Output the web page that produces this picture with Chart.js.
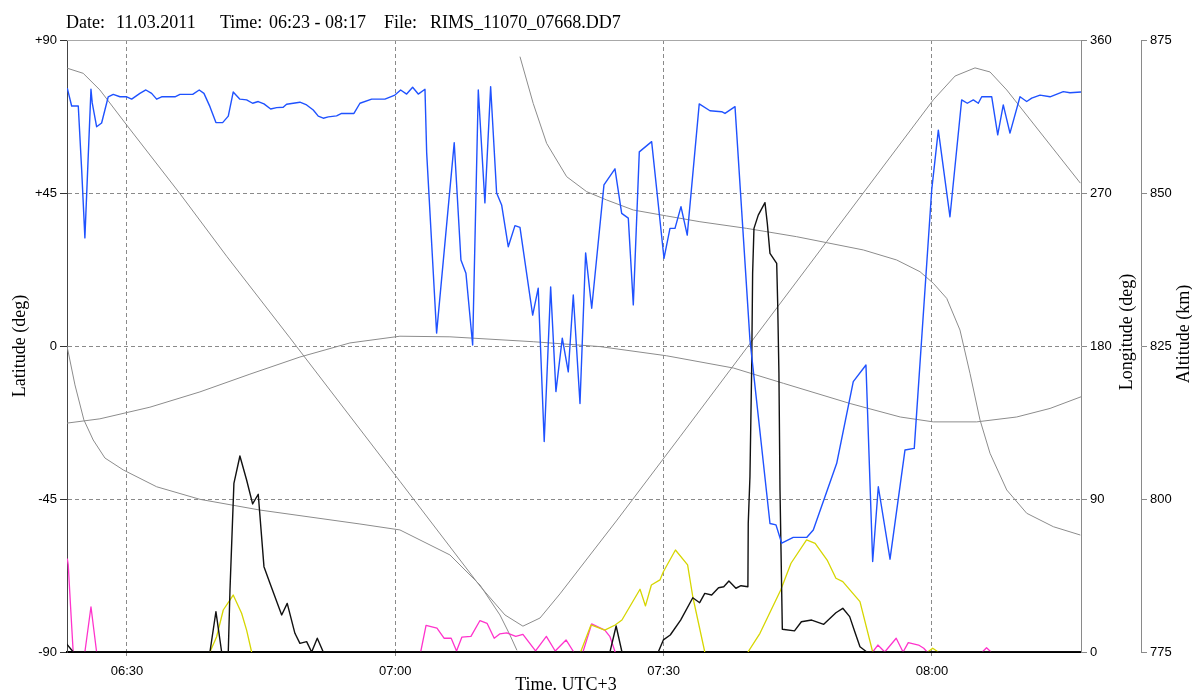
<!DOCTYPE html>
<html><head><meta charset="utf-8">
<script src="https://cdn.jsdelivr.net/npm/chart.js@4.4.1/dist/chart.umd.min.js"></script>
<style>html,body{margin:0;padding:0;background:#fff;} canvas{display:block;}</style>
</head><body>
<canvas id="c" width="1192" height="694" style="width:1192px;height:694px"></canvas>
<script>
// ---- axis ranges and ticks (time in minutes after midnight, UTC+3) ----
const xMin = 383.3, xMax = 496.66;
const xTickValues = [390, 420, 450, 480];
const xTickLabels = ['06:30', '07:00', '07:30', '08:00'];
const latTickValues = [-90, -45, 0, 45, 90];
const latTickLabels = ['-90', '-45', '0', '+45', '+90'];
const lonTickValues = [0, 90, 180, 270, 360];
const altTickValues = [775, 800, 825, 850, 875];

// ---- header / axis title texts ----
const titleTexts = ['Date:', '11.03.2011', 'Time:', '06:23 - 08:17', 'File:', 'RIMS_11070_07668.DD7'];
const xTitle = 'Time. UTC+3';
const latTitle = 'Latitude (deg)';
const lonTitle = 'Longitude (deg)';
const altTitle = 'Altitude (km)';

// ---- blue series (left axis, deg) ----
const blueTime = [383.33,383.82,384.56,384.94,385.30,385.98,386.12,386.61,387.17,387.91,388.47,389.22,389.97,390.53,391.45,392.12,392.76,393.32,393.88,395.37,395.93,397.35,398.08,398.61,399.28,399.95,400.70,401.33,401.88,402.63,403.38,404.05,404.68,405.32,406.07,406.74,407.47,407.85,409.34,410.09,410.83,411.39,411.95,412.51,413.44,414.00,415.38,416.05,417.36,418.84,419.96,420.60,421.27,421.94,422.57,423.32,423.51,424.62,426.59,427.34,427.90,428.65,429.28,430.02,430.66,431.33,431.89,432.63,433.38,433.94,435.36,435.98,436.65,437.37,437.96,438.67,439.34,439.90,440.65,441.28,441.96,443.33,444.56,445.31,446.05,446.61,447.28,448.66,450.04,450.71,451.27,451.94,452.64,453.98,455.18,456.49,456.86,457.98,459.65,461.89,462.56,463.20,464.49,465.99,466.73,469.35,471.20,472.62,473.37,474.00,475.31,476.98,478.02,479.97,480.71,482.01,483.32,483.95,484.62,485.18,485.56,486.68,487.35,487.97,488.72,489.84,490.59,491.15,492.08,493.20,494.68,495.43,496.66];
const blueLat = [75.8,70.6,70.6,51.8,31.8,75.5,71.5,64.5,65.6,73.3,74.0,73.3,73.3,72.6,74.3,75.3,74.3,72.6,73.3,73.3,74.0,74.0,75.3,74.3,70.4,65.7,65.7,67.6,74.7,72.6,72.4,71.4,71.9,71.2,69.7,70.1,70.2,71.1,71.7,70.9,69.4,67.6,67.0,67.4,67.7,68.4,68.4,71.4,72.6,72.6,73.8,75.3,74.1,76.1,74.1,75.5,56.8,3.8,59.8,25.3,21.4,0.3,75.3,42.1,76.3,45.0,41.5,29.2,35.4,34.9,9.1,17.0,-28.1,17.4,-13.4,2.3,-7.6,15.0,-16.9,27.4,11.1,47.4,52.1,39.0,37.6,12.1,57.1,60.1,25.8,34.6,34.6,41.0,32.6,71.2,69.2,68.9,68.4,70.4,1.8,-52.2,-52.6,-58.0,-56.3,-56.3,-54.1,-34.5,-10.5,-5.6,-63.4,-41.4,-62.7,-30.6,-30.1,45.9,63.5,38.0,72.4,71.4,72.4,71.4,73.3,73.3,62.1,70.9,62.6,73.3,71.9,72.9,73.8,73.3,74.8,74.5,74.7];

// ---- satellite latitude (left axis, deg) ----
const satTime = [383.33,385.11,386.98,389.97,395.93,401.15,408.22,420.52,429.47,432.26,434.27,436.18,438.41,444.79,451.83,457.42,468.23,480.15,482.58,484.81,486.49,488.36,496.59];
const satLat = [81.7,80.2,75.3,65.0,44.8,26.4,2.4,-39.8,-70.6,-79.1,-82.4,-80.0,-72.9,-51.2,-26.7,-7.1,30.7,72.4,79.4,81.8,80.6,75.3,47.9];

// ---- satellite longitude (deg, wraps 0 -> 360) ----
const lonTime = [383.30,384.19,385.19,386.23,387.54,389.59,393.32,398.16,404.87,416.05,420.52,426.11,429.47,431.70,432.82,433.60,433.77,433.94,435.42,436.92,439.16,441.39,443.63,446.61,450.34,454.06,459.28,464.87,472.32,476.05,478.66,480.15,481.65,483.13,484.25,485.37,486.49,488.36,490.59,493.57,496.59];
const lonVal = [180.0,157.1,136.5,124.7,114.1,107.1,97.2,89.8,83.5,75.3,71.8,57.1,39.4,21.8,10.0,1.0,null,350.2,322.7,299.2,279.6,270.8,265.9,260.0,256.5,253.1,249.2,244.3,236.5,230.6,223.7,216.9,208.0,189.4,163.9,136.5,116.9,95.3,81.6,73.7,68.8];

// ---- satellite altitude (km) ----
const altTime = [383.30,386.98,392.57,398.16,403.75,409.34,414.93,420.52,426.11,435.42,442.90,450.34,457.81,463.40,470.85,476.45,480.15,485.00,489.47,493.20,496.66];
const altVal = [812.4,813.1,815.0,817.5,820.4,823.2,825.5,826.6,826.5,825.7,824.9,823.4,821.4,818.9,815.6,813.4,812.6,812.6,813.4,814.8,816.7];

// ---- black series ----
const blackTime = [383.26,384.0,399.28,399.95,400.59,401.33,401.52,401.96,402.63,403.38,404.05,404.68,405.32,405.99,407.30,407.92,408.78,409.34,410.09,410.65,411.28,411.95,444.00,444.69,445.34,449.40,449.97,450.74,451.90,453.26,454.03,454.60,455.37,456.14,456.72,457.30,458.08,458.65,459.42,459.46,459.65,459.84,459.95,460.10,460.58,461.33,461.59,461.89,462.64,462.75,462.89,463.01,463.27,464.63,465.40,466.55,467.90,469.26,470.03,470.80,471.37,471.95,472.72,496.66];
const blackVal = [4.7,0,0,23.7,0,0,36.5,99.2,115.3,101.2,87.1,92.8,50.2,40.4,21.8,28.6,11.0,5.1,6.1,0,8.1,0,0,15.3,0,0,7.1,10.0,18.8,31.9,29.0,34.5,33.5,37.8,38.4,41.8,37.5,39.0,38.4,75.7,103.1,165.9,222.9,249.2,257.0,264.3,252.2,234.5,228.6,205.1,163.9,95.3,13.4,12.4,17.8,18.8,16.3,23.1,25.7,20.8,11.9,3.1,0,0];

// ---- yellow series ----
const yellowTime = [399.28,400.03,400.77,401.88,402.82,403.38,403.94,420,440.72,441.88,443.42,444.58,445.34,447.36,447.97,448.63,449.59,449.97,451.32,452.68,453.26,454.60,457,459.43,460.77,463.09,464.24,465.98,466.94,468.28,469.26,470.03,471.95,473.37,476,479.52,480.08,480.70];
const yellowVal = [0,9.0,24.7,33.5,22.8,12.9,0,null,0,15.9,12.9,15.9,18.8,36.9,27.1,39.4,42.4,47.2,60.0,51.2,32.5,0,null,0,11.0,36.5,52.2,65.9,63.9,54.1,43.4,41.4,29.6,0,null,0,2.2,0];

// ---- magenta series ----
const magentaTime = [383.33,383.44,383.70,383.99,384.6,385.30,385.98,386.61,400,422.84,423.44,424.66,425.45,426.25,426.85,427.45,428.46,429.47,430.26,431.06,431.67,432.47,433.47,434.27,435.68,436.89,437.88,439.09,439.95,440.5,440.98,441.95,443.42,444.00,444.58,460,473.37,473.95,474.72,476.00,476.77,477.35,478.50,479.08,479.46,482,485.63,486.10,486.60];
const magentaVal = [55.0,51.2,26.6,0,null,0,26.6,0,null,0,15.6,14.0,8.1,8.1,0.6,8.8,9.2,18.5,16.9,8.1,10.6,11.2,9.2,10.4,0.6,9.2,0.6,7.1,0,null,0,16.5,12.9,9.0,0,null,0,4.1,0,8.1,0,5.5,4.1,2.2,0,null,0,2.5,0];

// ---------------------------------------------------------------
const pts = (xs, ys) => xs.map((x, i) => ({ x: x, y: ys[i] }));
const GRID = '#8a8a8a';
const tickFont = { family: '"Liberation Sans", Arial, sans-serif', size: 13 };
const serif = '18px "Liberation Serif", "Times New Roman", serif';
const titleX = [66, 116, 220, 269, 384, 430];

const decor = {
  id: 'decor',
  afterDraw(chart) {
    const { ctx, chartArea: a } = chart;
    ctx.save();
    ctx.strokeStyle = '#a8a8a8';
    ctx.lineWidth = 1;
    ctx.beginPath();
    ctx.moveTo(a.left, a.top + 0.5);
    ctx.lineTo(a.right, a.top + 0.5);
    ctx.stroke();
    ctx.fillStyle = '#000';
    ctx.font = serif;
    ctx.textBaseline = 'alphabetic';
    ctx.textAlign = 'left';
    titleTexts.forEach((t, i) => ctx.fillText(t, titleX[i], 28));
    ctx.textAlign = 'center';
    ctx.textBaseline = 'middle';
    ctx.fillText(xTitle, 566, 685);
    const vText = (t, x, y) => {
      ctx.save();
      ctx.translate(x, y);
      ctx.rotate(-Math.PI / 2);
      ctx.fillText(t, 0, 0);
      ctx.restore();
    };
    vText(latTitle, 20, 346);
    vText(lonTitle, 1127, 332);
    vText(altTitle, 1184, 334);
    ctx.restore();
  }
};

const lineDS = (data, color, width, axis) => ({
  data: data, borderColor: color, borderWidth: width, yAxisID: axis,
  fill: false, pointRadius: 0, tension: 0, spanGaps: false, borderJoinStyle: 'round'
});

new Chart(document.getElementById('c'), {
  type: 'line',
  data: {
    datasets: [
      lineDS(pts(blueTime, blueLat), '#1f52ff', 1.4, 'y'),
      lineDS(pts(blackTime, blackVal), '#111111', 1.4, 'y2'),
      lineDS(pts(yellowTime, yellowVal), '#d6d600', 1.3, 'y2'),
      lineDS(pts(magentaTime, magentaVal), '#ff33cc', 1.3, 'y2'),
      lineDS(pts(satTime, satLat), '#8c8c8c', 1, 'y'),
      lineDS(pts(lonTime, lonVal), '#8c8c8c', 1, 'y2'),
      lineDS(pts(altTime, altVal), '#8c8c8c', 1, 'y3')
    ]
  },
  options: {
    responsive: false,
    animation: false,
    devicePixelRatio: 1,
    layout: { padding: { top: 40, left: 0, right: 0, bottom: 0 } },
    plugins: { legend: { display: false }, tooltip: { enabled: false }, title: { display: false } },
    scales: {
      x: {
        type: 'linear', position: 'bottom', min: xMin, max: xMax,
        afterBuildTicks: s => { s.ticks = xTickValues.map(v => ({ value: v })); },
        afterFit: s => { s.height = 42; },
        ticks: { callback: (v, i) => xTickLabels[i], font: tickFont, color: '#000', padding: 5, maxRotation: 0, autoSkip: false },
        grid: { color: GRID, lineWidth: 1, tickLength: 7, tickColor: GRID, tickBorderDash: [3, 3], borderDash: [4, 3] },
        border: { color: '#000', width: 2, dash: [4, 3] }
      },
      y: {
        type: 'linear', position: 'left', min: -90, max: 90,
        afterBuildTicks: s => { s.ticks = latTickValues.map(v => ({ value: v })); },
        afterFit: s => { s.width = 67; },
        ticks: { callback: (v, i) => latTickLabels[i], font: tickFont, color: '#000', padding: 3 },
        grid: {
          color: c => (c.tick && Math.abs(c.tick.value) === 90) ? 'rgba(0,0,0,0)' : GRID,
          lineWidth: 1, tickLength: 7, tickColor: '#333', borderDash: [4, 3]
        },
        border: { color: '#444', width: 1, dash: [4, 3] }
      },
      y2: {
        type: 'linear', position: 'right', weight: 1, min: 0, max: 360,
        afterBuildTicks: s => { s.ticks = lonTickValues.map(v => ({ value: v })); },
        afterFit: s => { s.width = 60; },
        ticks: { font: tickFont, color: '#000', padding: 3 },
        grid: { drawOnChartArea: false, tickLength: 6, tickColor: GRID, color: GRID },
        border: { color: GRID, width: 1 }
      },
      y3: {
        type: 'linear', position: 'right', weight: 2, min: 775, max: 875,
        afterBuildTicks: s => { s.ticks = altTickValues.map(v => ({ value: v })); },
        afterFit: s => { s.width = 51; },
        ticks: { font: tickFont, color: '#000', padding: 3 },
        grid: { drawOnChartArea: false, tickLength: 6, tickColor: GRID, color: GRID },
        border: { color: GRID, width: 1 }
      }
    }
  },
  plugins: [decor]
});
</script>
</body></html>
